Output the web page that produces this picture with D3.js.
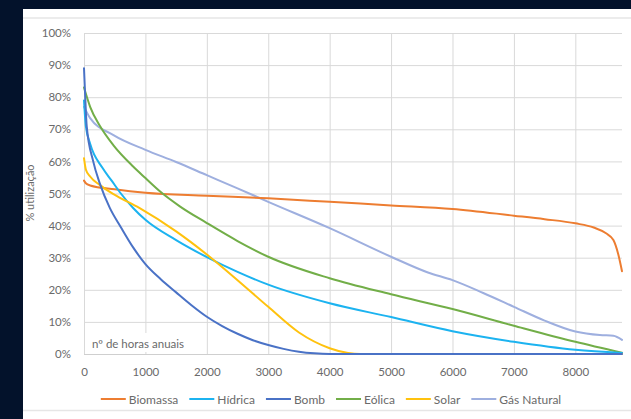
<!DOCTYPE html>
<html><head><meta charset="utf-8">
<script src="https://cdn.jsdelivr.net/npm/d3@7/dist/d3.min.js"></script>
<style>
html,body{margin:0;padding:0;background:#03122b;}
svg{display:block;}
text{font-family:Lato,"Open Sans",sans-serif;fill:#6a6a6a;}
</style></head>
<body>
<svg id="c" width="631" height="419"></svg>
<script>
// ---- data (hours per year vs % utilization) ----
const seriesNames = ["Biomassa","Hídrica","Bomb","Eólica","Solar","Gás Natural"];
const seriesColors = ["#ED7D31","#1CB3F0","#4A72C6","#72AE48","#FFC20E","#9EAFDF"];
const biomassa = [[0,54],[30,53.2],[100,52.5],[500,51.3],[1000,50.2],[2000,49.3],[3000,48.5],[4000,47.4],[5000,46.3],[6000,45.2],[7000,43.1],[7500,42],[8000,40.7],[8300,39.4],[8500,37.6],[8620,35.5],[8700,31],[8760,25.8]];
const hidrica = [[0,79],[30,71],[100,65.5],[300,58],[450,54],[600,50],[800,45.5],[1000,41.8],[1500,35.5],[2000,30.2],[2500,25.6],[3000,21.6],[4000,15.8],[5000,11.5],[6000,7.1],[7000,3.8],[8000,1.3],[8760,0.3]];
const bomb = [[0,89],[20,80],[44,71],[150,60],[260,53],[420,45.5],[600,39.5],[800,33.2],[1000,28],[1250,23.3],[1500,19.2],[1750,15.2],[2000,11.6],[2250,8.7],[2500,6.3],[2750,4.3],[3000,2.8],[3250,1.6],[3500,0.7],[3750,0.2],[4000,0],[8760,0]];
const eolica = [[0,83],[100,77],[260,71],[480,65],[800,58.4],[1000,54.8],[1240,50.6],[1560,46],[2000,40.8],[2500,35.2],[3000,30.3],[4000,23.6],[5000,18.6],[6000,14],[7000,8.8],[8000,3.8],[8760,0.4]];
const solar = [[0,61],[30,57.5],[100,55.3],[260,52.6],[480,49.8],[900,45.5],[1500,38.2],[2000,31],[2500,23],[3000,14.7],[3500,6.7],[4000,1.8],[4300,0.3],[4500,0],[8760,0]];
const gasNatural = [[0,77],[100,73.5],[480,68.2],[1000,63.6],[1500,59.8],[2000,55.7],[2500,51.6],[3000,47.4],[4000,39.2],[5000,30.3],[5600,25.4],[6000,23],[6500,19],[7000,14.7],[7500,10.4],[8000,7],[8400,5.9],[8620,5.7],[8760,4.4]];
const seriesData = [biomassa,hidrica,bomb,eolica,solar,gasNatural];
const xTicks = [0,1000,2000,3000,4000,5000,6000,7000,8000];
const yTicks = [0,0.1,0.2,0.3,0.4,0.5,0.6,0.7,0.8,0.9,1.0];
const yTitle = "% utilização";
const xNote = "nº de horas anuais";

const svg = d3.select("#c");
// white panel
svg.append("rect").attr("x",23).attr("y",9).attr("width",608).attr("height",410).attr("fill","#ffffff");
svg.append("line").attr("x1",23).attr("x2",631).attr("y1",18).attr("y2",18).attr("stroke","#e6e6e6").attr("stroke-width",1.5);
svg.append("line").attr("x1",23).attr("x2",631).attr("y1",410.5).attr("y2",410.5).attr("stroke","#e6e6e6").attr("stroke-width",1.5);

const x = d3.scaleLinear().domain([0,8760]).range([84,622]);
const y = d3.scaleLinear().domain([0,1]).range([354,33]);

// y grid + labels
const gy = svg.append("g").attr("transform","translate(84,0)")
  .call(d3.axisLeft(y).tickValues(yTicks).tickFormat(d3.format(".0%")).tickSizeInner(-538).tickSizeOuter(0).tickPadding(13));
gy.select(".domain").remove();
gy.selectAll(".tick line").attr("stroke","#d9d9d9");
gy.selectAll(".tick text").style("font-size","11.5px").attr("fill","#6a6a6a");

// x grid + labels
const gx = svg.append("g").attr("transform","translate(0,354)")
  .call(d3.axisBottom(x).tickValues(xTicks).tickFormat(d3.format("d")).tickSizeInner(-321).tickSizeOuter(0).tickPadding(14));
gx.select(".domain").remove();
gx.selectAll(".tick line").attr("stroke","#d9d9d9");
gx.selectAll(".tick text").style("font-size","11.5px").attr("fill","#6a6a6a");
// bottom axis line
svg.append("line").attr("x1",84).attr("x2",622).attr("y1",354.5).attr("y2",354.5).attr("stroke","#cfcfcf");

// note box
svg.append("rect").attr("x",86).attr("y",333).attr("width",120).attr("height",19).attr("fill","#ffffff");
svg.append("text").attr("x",92).attr("y",343).attr("dominant-baseline","central")
  .style("font-size","11.5px").attr("fill","#6a6a6a").text(xNote);

// y title
svg.append("text").attr("transform","translate(34,193) rotate(-90)").attr("text-anchor","middle")
  .style("font-size","11px").attr("fill","#7a7a7a").text(yTitle);

// lines
const line = d3.line().x(d=>x(d[0])).y(d=>y(d[1]/100)).curve(d3.curveMonotoneX);
const order = [5,0,3,1,4,2];
order.forEach(i=>{
  svg.append("path").datum(seriesData[i]).attr("d",line).attr("fill","none")
    .attr("stroke",seriesColors[i]).attr("stroke-width",2).attr("stroke-linejoin","round").attr("stroke-linecap","round");
});

// legend
const lg = svg.append("g");
let cx = 0;
seriesNames.forEach((n,i)=>{
  const g = lg.append("g").attr("transform",`translate(${cx},0)`);
  g.append("line").attr("x1",0).attr("x2",25).attr("y1",0).attr("y2",0).attr("stroke",seriesColors[i]).attr("stroke-width",2);
  const t = g.append("text").attr("x",28).attr("y",0).attr("dominant-baseline","central")
    .style("font-size","12px").attr("fill","#6a6a6a").text(n);
  cx += 28 + t.node().getComputedTextLength() + 11;
});
const totalW = cx - 11;
lg.attr("transform",`translate(${331 - totalW/2},399)`);
</script>
</body></html>
